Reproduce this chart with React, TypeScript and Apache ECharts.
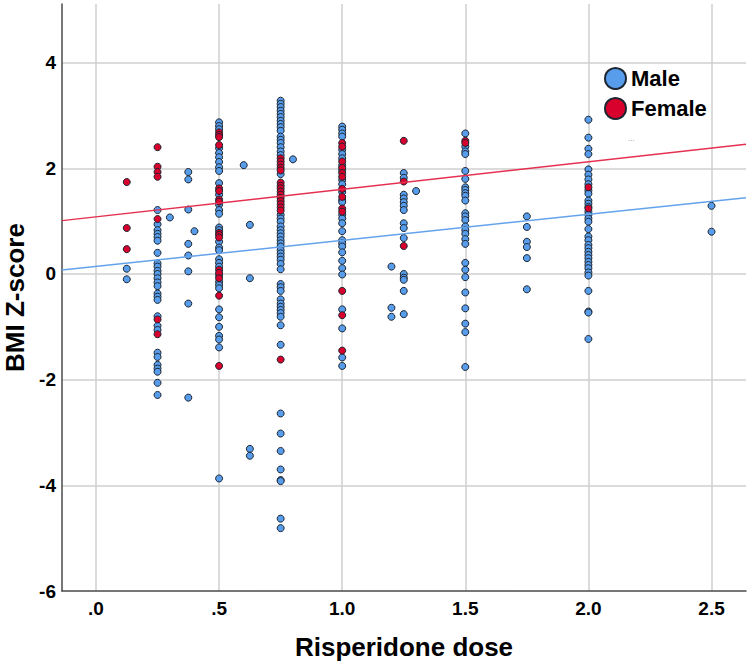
import React, { useEffect, useRef } from "react";
import * as echarts from "echarts";

// Dose levels (mg) where points are stacked
const doseLevels = [0.125, 0.25, 0.3, 0.375, 0.4, 0.5, 0.6, 0.625, 0.75, 0.8, 1.0, 1.2, 1.25, 1.3, 1.5, 1.75, 2.0, 2.5];

// BMI Z-scores of male patients at each dose level (same order as doseLevels)
const maleZ: number[][] = [
  [0.10, -0.10],
  [1.21, 0.94, 0.83, 0.76, 0.70, 0.63, 0.40, 0.20, 0.14, 0.06, 0.00, -0.08, -0.16, -0.23, -0.37, -0.43, -0.49, -0.80, -0.98, -1.06, -1.49, -1.57, -1.72, -1.79, -1.85, -2.06, -2.29],
  [1.07],
  [1.93, 1.79, 1.22, 0.57, 0.35, 0.05, -0.56, -2.34],
  [0.81],
  [2.87, 2.80, 2.74, 2.38, 2.29, 2.21, 2.12, 2.02, 1.95, 1.72, 1.50, 1.31, 1.21, 1.14, 0.88, 0.83, 0.61, 0.50, 0.45, 0.28, 0.21, 0.14, -0.03, -0.15, -0.21, -0.27, -0.67, -0.82, -1.00, -1.17, -1.24, -1.39, -3.87],
  [2.06],
  [0.93, -0.08, -3.31, -3.44],
  [3.28, 3.22, 3.16, 3.09, 3.03, 2.97, 2.90, 2.84, 2.78, 2.71, 2.60, 2.54, 2.48, 2.40, 2.32, 2.25, 1.89, 1.12, 1.05, 0.99, 0.90, 0.83, 0.77, 0.71, 0.64, 0.58, 0.52, 0.45, 0.39, 0.33, 0.27, 0.19, 0.09, -0.19, -0.25, -0.32, -0.48, -0.56, -0.62, -0.68, -0.74, -0.81, -0.97, -1.34, -2.64, -3.02, -3.35, -3.70, -3.90, -3.92, -4.63, -4.81],
  [2.17],
  [2.79, 2.73, 2.66, 2.60, 2.35, 2.27, 2.19, 2.06, 1.96, 1.78, 1.70, 1.55, 1.40, 1.36, 1.12, 1.05, 0.96, 0.81, 0.64, 0.58, 0.52, 0.41, 0.25, 0.11, -0.01, -0.67, -1.03, -1.58, -1.74],
  [0.14, -0.64, -0.81],
  [1.91, 1.82, 1.50, 1.43, 1.36, 1.29, 1.21, 0.96, 0.87, 0.68, 0.00, -0.07, -0.11, -0.32, -0.76],
  [1.57],
  [2.66, 2.41, 2.32, 2.27, 1.95, 1.80, 1.64, 1.59, 1.53, 1.48, 1.39, 1.15, 1.09, 1.02, 0.90, 0.83, 0.76, 0.66, 0.57, 0.21, 0.08, -0.06, -0.35, -0.65, -0.94, -1.10, -1.76],
  [1.09, 0.89, 0.61, 0.51, 0.30, -0.29],
  [2.92, 2.58, 2.37, 2.27, 1.98, 1.88, 1.79, 1.70, 1.58, 1.52, 1.39, 1.33, 1.27, 1.18, 1.12, 1.05, 0.99, 0.85, 0.71, 0.64, 0.55, 0.49, 0.42, 0.36, 0.30, 0.23, 0.17, 0.11, 0.03, -0.03, -0.32, -0.71, -0.73, -1.23],
  [1.29, 0.80],
];

// BMI Z-scores of female patients at each dose level (same order as doseLevels)
const femaleZ: number[][] = [
  [1.74, 0.87, 0.47],
  [2.40, 2.03, 1.93, 1.84, 1.04, -0.86, -1.14],
  [],
  [],
  [],
  [2.68, 2.63, 2.59, 2.44, 1.62, 1.57, 1.41, 1.37, 0.78, 0.74, 0.69, 0.08, 0.02, -0.08, -0.41, -1.74],
  [],
  [],
  [2.19, 2.13, 2.07, 2.01, 1.96, 1.73, 1.67, 1.62, 1.56, 1.50, 1.44, 1.38, 1.32, 1.26, 1.20, -1.62],
  [],
  [2.48, 2.41, 2.13, 2.01, 1.91, 1.84, 1.61, 1.46, 1.24, 1.18, -0.32, -0.78, -1.45],
  [],
  [2.52, 1.75, 0.53],
  [],
  [2.52, 2.48],
  [],
  [1.64, 1.24],
  [],
];

// Fit lines (end points at the axis extents)
const fitDose = [-0.138, 2.64];
const maleFitZ = [0.076, 1.445];
const femaleFitZ = [1.01, 2.456];

const legendNames = ["Male", "Female"];
const xTitle = "Risperidone dose";
const yTitle = "BMI Z-score";

const MALE_COLOR = "#589deb";
const FEMALE_COLOR = "#d8002c";
const MALE_LINE = "#64a3ec";
const FEMALE_LINE = "#e53050";

function toPoints(groups: number[][]): number[][] {
  const out: number[][] = [];
  groups.forEach((zs, i) => zs.forEach((z) => out.push([doseLevels[i], z])));
  return out;
}

export default function App() {
  const ref = useRef<HTMLDivElement>(null);
  useEffect(() => {
    if (!ref.current) return;
    const chart = echarts.init(ref.current, undefined, { renderer: "svg" });
    const labelFont = { fontFamily: "Liberation Sans, Arial, sans-serif", fontWeight: "bold" as const, color: "#000" };
    chart.setOption({
      animation: false,
      backgroundColor: "#fff",
      grid: { left: 62, right: 4, top: 4, bottom: 76, containLabel: false, outerBoundsMode: "none" },
      legend: {
        data: legendNames,
        orient: "vertical",
        left: 604,
        top: 67,
        padding: 0,
        icon: "circle",
        itemWidth: 21,
        itemHeight: 21,
        itemGap: 7,
        textStyle: { ...labelFont, fontSize: 22 },
        selectedMode: false,
      },
      xAxis: {
        type: "value",
        min: -0.138,
        max: 2.64,
        splitNumber: 5,
        name: xTitle,
        nameLocation: "middle",
        nameGap: 43,
        nameTextStyle: { ...labelFont, fontSize: 26 },
        axisLine: { show: true, onZero: false, lineStyle: { color: "#4a4a4a", width: 1.5 } },
        axisTick: { show: false },
        axisLabel: {
          ...labelFont,
          fontSize: 19,
          margin: 8,
          showMinLabel: false,
          showMaxLabel: false,
          formatter: (v: number) => {
            if (Math.abs(v * 2 - Math.round(v * 2)) > 1e-6) return "";
            const s = v.toFixed(1);
            return v < 1 ? s.replace(/^0/, "") : s;
          },
        },
        splitLine: { show: true, showMinLine: false, showMaxLine: false, lineStyle: { color: "#cfcfcf", width: 1.5 } },
      },
      yAxis: {
        type: "value",
        min: -6,
        max: 5.11,
        splitNumber: 5,
        name: yTitle,
        nameLocation: "middle",
        nameGap: 34,
        nameRotate: 90,
        nameTextStyle: { ...labelFont, fontSize: 26 },
        axisLine: { show: true, onZero: false, lineStyle: { color: "#4a4a4a", width: 1.5 } },
        axisTick: { show: false },
        axisLabel: {
          ...labelFont,
          fontSize: 19,
          margin: 6,
          showMaxLabel: false,
          formatter: (v: number) => (Math.abs(v - Math.round(v)) > 1e-6 ? "" : String(v)),
        },
        splitLine: { show: true, showMinLine: false, showMaxLine: false, lineStyle: { color: "#cfcfcf", width: 1.5 } },
      },
      graphic: [
        {
          type: "text",
          left: 628,
          top: 134,
          style: { text: "...", fontSize: 8, fill: "#888" },
        },
      ],
      series: [
        {
          name: "Male",
          type: "scatter",
          data: toPoints(maleZ),
          symbolSize: 7,
          itemStyle: { color: MALE_COLOR, borderColor: "#1c2530", borderWidth: 1, opacity: 1 },
          z: 2,
        },
        {
          name: "Female",
          type: "scatter",
          data: toPoints(femaleZ),
          symbolSize: 7,
          itemStyle: { color: FEMALE_COLOR, borderColor: "#1c2530", borderWidth: 1, opacity: 1 },
          z: 3,
        },
        {
          name: "Male fit",
          type: "line",
          data: fitDose.map((d, i) => [d, maleFitZ[i]]),
          symbol: "none",
          lineStyle: { color: MALE_LINE, width: 1.5 },
          z: 4,
        },
        {
          name: "Female fit",
          type: "line",
          data: fitDose.map((d, i) => [d, femaleFitZ[i]]),
          symbol: "none",
          lineStyle: { color: FEMALE_LINE, width: 1.5 },
          z: 4,
        },
      ],
    });
    return () => chart.dispose();
  }, []);
  return <div ref={ref} style={{ position: "fixed", left: 0, top: 0, width: 750, height: 667 }} />;
}
